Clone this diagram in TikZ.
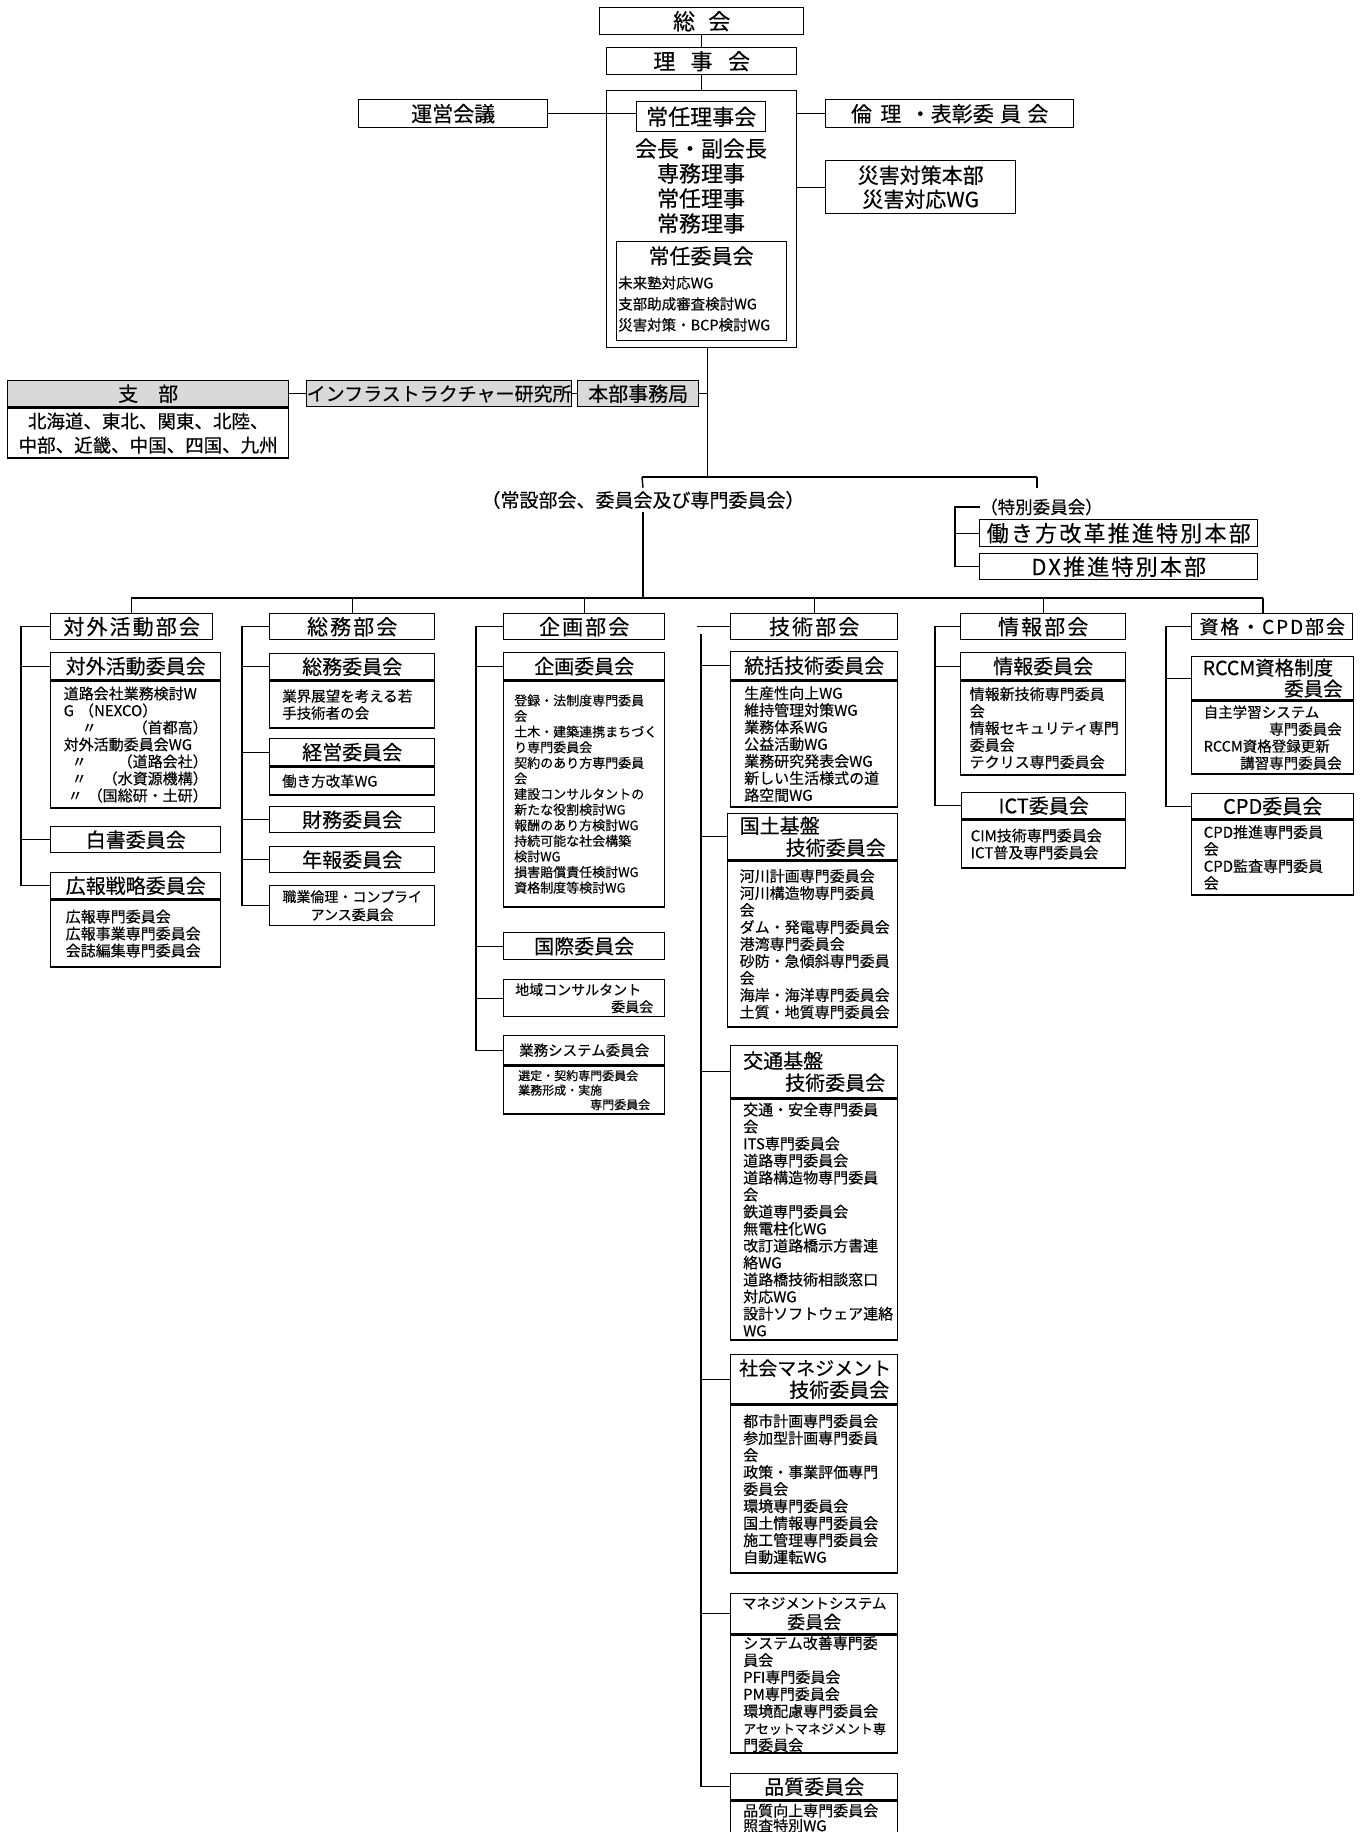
\documentclass[tikz,border=0pt]{standalone}
\usepackage{fontspec}
\setmainfont{Noto Sans CJK JP}[FakeBold=0.3]
\newfontfamily\hdfont{Noto Sans CJK JP}[LetterSpace=10, FakeBold=0.3]
\newcommand{\fsz}[2]{\fontsize{#1}{#2}\selectfont}
\definecolor{hdgray}{gray}{0.85}
\tikzset{
  box/.style={draw, line width=1.4pt, inner sep=0pt, anchor=north west, align=center},
  bukai/.style={box, minimum height=26pt, font=\hdfont\fsz{21}{24}},
  iin/.style={box, font=\fsz{20}{22}},
  naka/.style={box, align=left, font=\fsz{15}{17}},
  conn/.style={line width=1.4pt},
}
\begin{document}
\begin{tikzpicture}[x=1pt,y=-1pt]
  \useasboundingbox (0,0) rectangle (1360,1832);
  \node[box, minimum width=204pt, minimum height=27pt, font=\fsz{22}{24}] (soukai) at (599,7) {総\hspace{0.6em}会};
  \node[box, minimum width=190pt, minimum height=27pt, font=\fsz{22}{24}] (rijikai) at (606,47) {理\hspace{0.7em}事\hspace{0.7em}会};
  \node[box, minimum width=190pt, minimum height=257pt] (jonin) at (606,90) {};
  \node[box, minimum width=129pt, minimum height=30pt, font=\fsz{22}{24}] (jrijikai) at (636,101) {常任理事会};
  \node[font=\fsz{22}{25}, align=center] (yakuin) at (701,186) {会長・副会長\\専務理事\\常任理事\\常務理事};
  \node[box, minimum width=170pt, minimum height=99pt] (jiinkai) at (616,241) {};
  \node[font=\fsz{21}{24}] (jiinkaiT) at (701,256) {常任委員会};
  \node[anchor=north west, inner sep=0pt, align=left, font=\fsz{14.5}{21}] (jiinkaiL) at (618,276) {未来塾対応WG\\支部助成審査検討WG\\災害対策・BCP検討WG};
  \node[box, minimum width=189pt, minimum height=28pt, font=\fsz{21}{24}] (unei) at (358,99) {運営会議};
  \node[box, minimum width=248pt, minimum height=28pt, font=\fsz{21}{24}] (rinri) at (825,99) {倫\hspace{0.4em}理\hspace{0.4em}・表彰委\hspace{0.3em}員\hspace{0.3em}会};
  \node[box, minimum width=190pt, minimum height=53pt, font=\fsz{21}{24}] (saigai) at (825,160) {災害対策本部\\災害対応WG};
  \draw[conn] (soukai) -- (rijikai);
  \draw[conn] (rijikai) -- (jonin);
  \draw[conn] (unei.east) -- (unei.east -| jrijikai.west);
  \draw[conn] (jonin.east |- rinri.west) -- (rinri.west);
  \draw[conn] (jonin.east |- saigai.west) -- (saigai.west);

  \node[box, fill=hdgray, minimum width=281pt, minimum height=26pt, font=\fsz{20}{24}] (shibu) at (7,380) {支　部};
  \node[box, minimum width=281pt, minimum height=50pt, font=\fsz{18.5}{24}] (shibuL) at (shibu.south west) {北海道、東北、関東、北陸、\\中部、近畿、中国、四国、九州};
  \node[box, fill=hdgray, minimum width=255pt, minimum height=26pt, font=\fsz{19}{22}] (infra) at (306,380) {インフラストラクチャー研究所};
  \node[box, fill=hdgray, minimum width=121pt, minimum height=26pt, font=\fsz{20}{22}] (honbu) at (577,380) {本部事務局};
  \draw[conn] (shibu.east) -- (infra.west);
  \draw[conn] (infra.east) -- (honbu.west);

  \coordinate (hq) at ([xshift=6pt]jonin.south);
  \coordinate (hqL) at (642,477);
  \coordinate (hqR) at (1037,477);
  \draw[conn] (hq) -- (hq |- hqL);
  \draw[conn] (honbu.east) -- (honbu.east -| hq);
  \draw[conn] (hqL) -- (hqR);
  \node[font=\fsz{19}{22}, inner sep=3pt] (jousetsu) at (643,500) {（常設部会、委員会及び専門委員会）};
  \node[anchor=west, inner sep=0pt, font=\fsz{17.5}{20}] (tokubetsu) at (980,507) {（特別委員会）};
  \node[box, minimum width=278pt, minimum height=27pt, font=\hdfont\fsz{22}{24}] (hataraki) at (979,519) {働き方改革推進特別本部};
  \node[box, minimum width=278pt, minimum height=26pt, font=\hdfont\fsz{22}{24}] (dx) at (979,553) {DX推進特別本部};
  \draw[conn] (hqL) -- (jousetsu.north);
  \draw[conn] (hqR) -- ++(0,11);
  \coordinate (tkb) at ([xshift=-25pt]tokubetsu.west);
  \draw[conn] (tokubetsu.west) -- (tkb) |- (dx.west);
  \draw[conn] (hataraki.west) -- (hataraki.west -| tkb);

  \coordinate (busL) at (131,598);
  \coordinate (busR) at (1263,598);
  \draw[conn] (jousetsu.south) -- (jousetsu.south |- busL);
  \draw[conn] (busL) -- (busR);

  \node[bukai, minimum width=162pt] (taigaiB) at (50,613) {対外活動部会};
  \node[iin, minimum width=170pt, minimum height=27pt] (taigaiH) at (50,652) {対外活動委員会};
  \node[naka, minimum width=170pt, minimum height=127pt, text width=144pt] (taigaiL) at (taigaiH.south west) {道路会社業務検討W\\G （NEXCO）\\\hspace*{18pt}〃\hfill（首都高）\\対外活動委員会WG\\\hspace*{8pt}〃\hfill（道路会社）\\\hspace*{8pt}〃\hfill（水資源機構）\\\hspace*{4pt}〃\hfill（国総研・土研）};
  \node[iin, minimum width=170pt, minimum height=26pt] (hakusho) at (50,826) {白書委員会};
  \node[iin, minimum width=170pt, minimum height=26pt] (kouhoH) at (50,872) {広報戦略委員会};
  \node[naka, minimum width=170pt, minimum height=67pt, text width=140pt] (kouhoL) at (kouhoH.south west) {広報専門委員会\\広報事業専門委員会\\会誌編集専門委員会};
  \coordinate (s1) at ([xshift=-29pt]taigaiB.west);
  \draw[conn] (taigaiB.west) -- (s1) |- (kouhoH.west);
  \foreach \n in {taigaiH, hakusho} \draw[conn] (\n.west) -- (\n.west -| s1);

  \node[bukai, minimum width=165pt] (soumuB) at (269,613) {総務部会};
  \node[iin, minimum width=165pt, minimum height=26pt] (soumuH) at (269,653) {総務委員会};
  \node[naka, minimum width=165pt, minimum height=47pt, text width=140pt, font=\fsz{14.5}{17}] (soumuL) at (soumuH.south west) {業界展望を考える若\\手技術者の会};
  \node[iin, minimum width=165pt, minimum height=27pt] (keieiH) at (269,738) {経営委員会};
  \node[naka, minimum width=165pt, minimum height=28pt, text width=140pt, font=\fsz{14.5}{17}] (keieiL) at (keieiH.south west) {働き方改革WG};
  \node[iin, minimum width=165pt, minimum height=26pt] (zaimu) at (269,806) {財務委員会};
  \node[iin, minimum width=165pt, minimum height=26pt] (nenpo) at (269,846) {年報委員会};
  \node[box, minimum width=165pt, minimum height=40pt, font=\fsz{14}{18}] (rinriC) at (269,885) {職業倫理・コンプライ\\アンス委員会};
  \coordinate (s2) at ([xshift=-27pt]soumuB.west);
  \draw[conn] (soumuB.west) -- (s2) |- (rinriC.west);
  \foreach \n in {soumuH, keieiH, zaimu, nenpo} \draw[conn] (\n.west) -- (\n.west -| s2);

  \node[bukai, minimum width=161pt] (kikakuB) at (503,613) {企画部会};
  \node[iin, minimum width=161pt, minimum height=27pt] (kikakuH) at (503,652) {企画委員会};
  \node[naka, minimum width=161pt, minimum height=226pt, text width=140pt, font=\fsz{13}{15.6}] (kikakuL) at (kikakuH.south west) {登録・法制度専門委員\\会\\土木・建築連携まちづく\\り専門委員会\\契約のあり方専門委員\\会\\建設コンサルタントの\\新たな役割検討WG\\報酬のあり方検討WG\\持続可能な社会構築\\検討WG\\損害賠償責任検討WG\\資格制度等検討WG};
  \node[iin, minimum width=161pt, minimum height=27pt] (kokusai) at (503,932) {国際委員会};
  \node[box, minimum width=161pt, minimum height=37pt, text width=138pt, align=left, font=\fsz{14}{17}] (chiiki) at (503,979) {地域コンサルタント\\\hspace*{\fill}委員会};
  \node[box, minimum width=161pt, minimum height=29pt, font=\fsz{14.5}{17}] (gyomuH) at (503,1035) {業務システム委員会};
  \node[naka, minimum width=161pt, minimum height=48pt, text width=132pt, font=\fsz{12}{14.5}] (gyomuL) at (gyomuH.south west) {選定・契約専門委員会\\業務形成・実施\\\hspace*{\fill}専門委員会};
  \coordinate (s3) at ([xshift=-27pt]kikakuB.west);
  \draw[conn] (kikakuB.west) -- (s3) |- (gyomuH.west);
  \foreach \n in {kikakuH, kokusai, chiiki} \draw[conn] (\n.west) -- (\n.west -| s3);

  \node[bukai, minimum width=167pt] (gijutsuB) at (730,613) {技術部会};
  \node[iin, minimum width=167pt, minimum height=28pt] (toukatsuH) at (730,651) {統括技術委員会};
  \node[naka, minimum width=167pt, minimum height=126pt, text width=140pt] (toukatsuL) at (toukatsuH.south west) {生産性向上WG\\維持管理対策WG\\業務体系WG\\公益活動WG\\業務研究発表会WG\\新しい生活様式の道\\路空間WG};
  \node[iin, minimum width=170pt, minimum height=46pt, text width=146pt, align=left] (kokudoH) at (727,813) {国土基盤\\\hspace*{\fill}技術委員会};
  \node[naka, minimum width=170pt, minimum height=166pt, text width=146pt] (kokudoL) at (kokudoH.south west) {河川計画専門委員会\\河川構造物専門委員\\会\\ダム・発電専門委員会\\港湾専門委員会\\砂防・急傾斜専門委員\\会\\海岸・海洋専門委員会\\土質・地質専門委員会};
  \node[iin, minimum width=167pt, minimum height=52pt, text width=142pt, align=left] (koutsuH) at (730,1045) {交通基盤\\\hspace*{\fill}技術委員会};
  \node[naka, minimum width=167pt, minimum height=241pt, text width=142pt] (koutsuL) at (koutsuH.south west) {交通・安全専門委員\\会\\ITS専門委員会\\道路専門委員会\\道路構造物専門委員\\会\\鉄道専門委員会\\無電柱化WG\\改訂道路橋示方書連\\絡WG\\道路橋技術相談窓口\\対応WG\\設計ソフトウェア連絡\\WG};
  \node[iin, minimum width=167pt, minimum height=49pt, text width=150pt, align=left] (shakaiH) at (730,1354) {{\fsz{19}{22}社会マネジメント}\\\hspace*{\fill}技術委員会};
  \node[naka, minimum width=167pt, minimum height=168pt, text width=142pt] (shakaiL) at (shakaiH.south west) {都市計画専門委員会\\参加型計画専門委員\\会\\政策・事業評価専門\\委員会\\環境専門委員会\\国土情報専門委員会\\施工管理専門委員会\\自動運転WG};
  \node[box, minimum width=167pt, minimum height=40pt, font=\fsz{18}{20}] (maneH) at (730,1593) {{\fsz{14.5}{18}マネジメントシステム}\\委員会};
  \node[naka, minimum width=167pt, minimum height=118pt, text width=142pt] (maneL) at (maneH.south west) {システム改善専門委\\員会\\PFI専門委員会\\PM専門委員会\\環境配慮専門委員会\\{\fsz{13}{17}アセットマネジメント専}\\門委員会};
  \node[iin, minimum width=167pt, minimum height=26pt] (hinshitsuH) at (730,1773) {品質委員会};
  \node[naka, minimum width=167pt, minimum height=34pt, text width=142pt, font=\fsz{15}{15}] (hinshitsuL) at (hinshitsuH.south west) {品質向上専門委員会\\照査特別WG};
  \coordinate (s4) at ([xshift=-29pt]gijutsuB.west);
  \draw[conn] ([yshift=-7pt]s4) |- (hinshitsuH.west);
  \draw[conn] (gijutsuB.west) -- ++(-33,0);
  \foreach \n in {toukatsuH, kokudoH, koutsuH, shakaiH, maneH} \draw[conn] (\n.west) -- (\n.west -| s4);

  \node[bukai, minimum width=165pt] (jouhouB) at (960,613) {情報部会};
  \node[iin, minimum width=165pt, minimum height=27pt] (jouhouH) at (960,652) {情報委員会};
  \node[naka, minimum width=165pt, minimum height=94pt, text width=147pt] (jouhouL) at (jouhouH.south west) {情報新技術専門委員\\会\\情報セキュリティ専門\\委員会\\テクリス専門委員会};
  \node[iin, minimum width=164pt, minimum height=26pt] (ictH) at (961,792) {ICT委員会};
  \node[naka, minimum width=164pt, minimum height=48pt, text width=146pt] (ictL) at (ictH.south west) {CIM技術専門委員会\\ICT普及専門委員会};
  \coordinate (s5) at ([xshift=-25pt]jouhouB.west);
  \draw[conn] (jouhouB.west) -- (s5) |- (ictH.west);
  \draw[conn] (jouhouH.west) -- (jouhouH.west -| s5);

  \node[bukai, minimum width=161pt, font=\hdfont\fsz{19}{22}] (shikakuB) at (1191,613) {資格・CPD部会};
  \node[iin, minimum width=162pt, minimum height=43pt, text width=140pt, align=left, font=\fsz{19.5}{21}] (rccmH) at (1191,656) {RCCM資格制度\\\hspace*{\fill}委員会};
  \node[naka, minimum width=162pt, minimum height=73pt, text width=138pt, font=\fsz{14.5}{17}] (rccmL) at (rccmH.south west) {自主学習システム\\\hspace*{\fill}専門委員会\\RCCM資格登録更新\\\hspace*{\fill}講習専門委員会};
  \node[iin, minimum width=162pt, minimum height=25pt] (cpdH) at (1191,793) {CPD委員会};
  \node[naka, minimum width=162pt, minimum height=75pt, text width=138pt] (cpdL) at (cpdH.south west) {CPD推進専門委員\\会\\CPD監査専門委員\\会};
  \coordinate (s6) at ([xshift=-25pt]shikakuB.west);
  \draw[conn] (shikakuB.west) -- (s6) |- (cpdH.west);
  \draw[conn] (rccmH.west) -- (rccmH.west -| s6);

  \foreach \n in {taigaiB, soumuB, kikakuB, gijutsuB, jouhouB} \draw[conn] (\n.north |- busL) -- (\n.north);
  \draw[conn] (busR) -- (busR |- shikakuB.north);
\end{tikzpicture}
\end{document}
